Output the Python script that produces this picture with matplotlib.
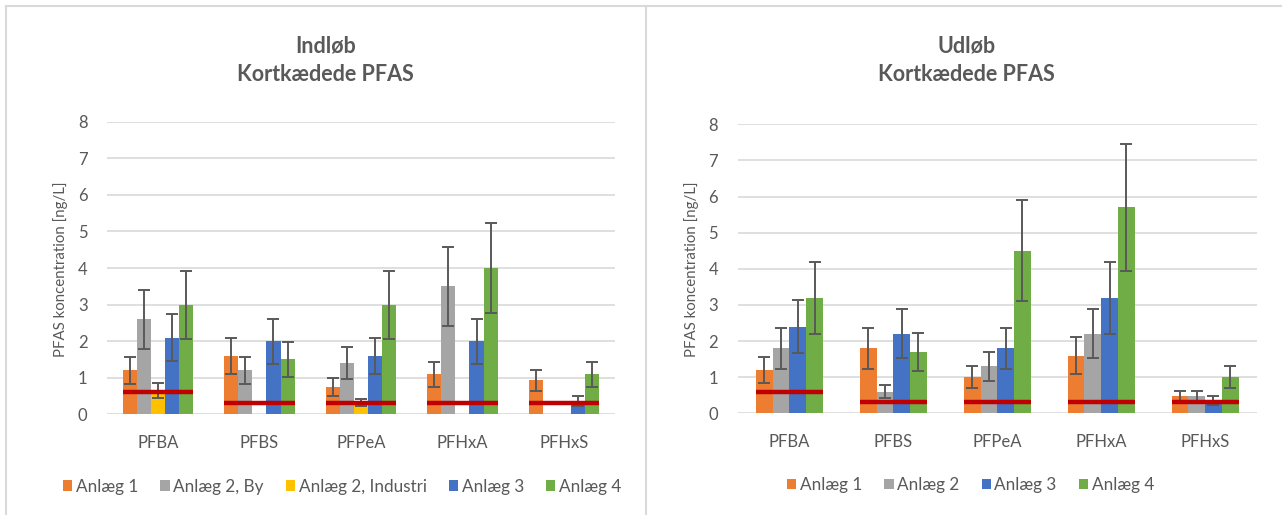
import numpy as np
import matplotlib
matplotlib.use("Agg")
import matplotlib.pyplot as plt
from matplotlib.lines import Line2D

plt.rcParams["font.family"] = ["Lato", "DejaVu Sans"]

# data
compounds = ["PFBA", "PFBS", "PFPeA", "PFHxA", "PFHxS"]
limit_values = [0.6, 0.3, 0.3, 0.3, 0.3]

in_labels = ["Anlæg 1", "Anlæg 2, By", "Anlæg 2, Industri", "Anlæg 3", "Anlæg 4"]
in_anlaeg1 = [1.2, 1.6, 0.75, 1.1, 0.93]
in_anlaeg1_err = [0.37, 0.5, 0.25, 0.34, 0.29]
in_anlaeg2_by = [2.6, 1.2, 1.4, 3.5, np.nan]
in_anlaeg2_by_err = [0.81, 0.38, 0.43, 1.08, np.nan]
in_anlaeg2_ind = [0.66, np.nan, 0.33, np.nan, np.nan]
in_anlaeg2_ind_err = [0.21, np.nan, 0.1, np.nan, np.nan]
in_anlaeg3 = [2.1, 2.0, 1.6, 2.0, 0.36]
in_anlaeg3_err = [0.65, 0.62, 0.5, 0.62, 0.13]
in_anlaeg4 = [3.0, 1.5, 3.0, 4.0, 1.1]
in_anlaeg4_err = [0.93, 0.47, 0.93, 1.24, 0.34]

out_labels = ["Anlæg 1", "Anlæg 2", "Anlæg 3", "Anlæg 4"]
out_anlaeg1 = [1.2, 1.8, 1.0, 1.6, 0.48]
out_anlaeg1_err = [0.37, 0.56, 0.31, 0.5, 0.15]
out_anlaeg2 = [1.8, 0.6, 1.3, 2.2, 0.48]
out_anlaeg2_err = [0.56, 0.18, 0.4, 0.68, 0.15]
out_anlaeg3 = [2.4, 2.2, 1.8, 3.2, 0.36]
out_anlaeg3_err = [0.74, 0.68, 0.56, 1.0, 0.12]
out_anlaeg4 = [3.2, 1.7, 4.5, 5.7, 1.0]
out_anlaeg4_err = [1.0, 0.53, 1.4, 1.77, 0.31]

TEXT = "#595959"
GRID = "#D9D9D9"
RED = "#C00000"


def draw_panel(ax, series, errors, labels, colors, bar_w):
    x = np.arange(len(compounds))
    n = len(series)
    for k, (vals, errs, lab, col) in enumerate(zip(series, errors, labels, colors)):
        offs = (k - (n - 1) / 2) * bar_w
        ax.bar(x + offs, vals, bar_w, color=col, label=lab, zorder=2,
               yerr=errs, error_kw=dict(ecolor=TEXT, elinewidth=1.4,
                                        capsize=4.5, capthick=1.4, zorder=3))
    half = n * bar_w / 2
    for i, lim in enumerate(limit_values):
        ax.hlines(lim, i - half, i + half, color=RED, linewidth=3.2, zorder=4)

    ax.set_xlim(-0.5, len(compounds) - 0.5)
    ax.set_ylim(0, 8)
    ax.set_yticks(range(0, 9))
    ax.set_xticks(x)
    ax.set_xticklabels(compounds)
    ax.tick_params(length=0, labelsize=12, colors=TEXT)
    ax.tick_params(axis="y", pad=14)
    ax.tick_params(axis="x", pad=15)
    ax.grid(axis="y", color=GRID, linewidth=1.2)
    ax.set_axisbelow(True)
    for s in ax.spines.values():
        s.set_visible(False)


fig = plt.figure(figsize=(12.82, 5.15), dpi=100)

ax1 = fig.add_axes([0.0835, 0.1955, 0.396, 0.568])
draw_panel(ax1,
           [in_anlaeg1, in_anlaeg2_by, in_anlaeg2_ind, in_anlaeg3, in_anlaeg4],
           [in_anlaeg1_err, in_anlaeg2_by_err, in_anlaeg2_ind_err,
            in_anlaeg3_err, in_anlaeg4_err],
           in_labels,
           ["#ED7D31", "#A5A5A5", "#FFC000", "#4472C4", "#70AD47"], 0.139)

ax2 = fig.add_axes([0.5753, 0.1975, 0.4052, 0.561])
draw_panel(ax2,
           [out_anlaeg1, out_anlaeg2, out_anlaeg3, out_anlaeg4],
           [out_anlaeg1_err, out_anlaeg2_err, out_anlaeg3_err, out_anlaeg4_err],
           out_labels,
           ["#ED7D31", "#A5A5A5", "#4472C4", "#70AD47"], 0.161)

# titles
for xc, first in [(0.254, "Indløb"), (0.754, "Udløb")]:
    fig.text(xc, 0.911, first, ha="center", va="center", fontsize=15.5,
             fontweight="bold", color=TEXT)
    fig.text(xc, 0.856, "Kortkædede PFAS", ha="center", va="center",
             fontsize=15.5, fontweight="bold", color=TEXT)

# y labels
for xp in [61, 692]:
    fig.text(xp / 1282, 0.478, "PFAS koncentration [ng/L]", rotation=90,
             ha="center", va="center", fontsize=10.8, color=TEXT)

# legends
leg_kw = dict(loc="center", frameon=False, fontsize=12.3, labelcolor=TEXT,
              handlelength=0.55, handleheight=0.55, handletextpad=0.2,
              columnspacing=1.3)
h1, l1 = ax1.get_legend_handles_labels()
fig.legend(h1, l1, bbox_to_anchor=(0.2668, 0.055), ncol=5, **leg_kw)
h2, l2 = ax2.get_legend_handles_labels()
fig.legend(h2, l2, bbox_to_anchor=(0.757, 0.058), ncol=4, **leg_kw)

# panel frame lines
W, H = 1282, 515
fig.add_artist(Line2D([6 / W, 1], [1 - 6 / H, 1 - 6 / H], color=GRID, lw=1.5))
fig.add_artist(Line2D([6 / W, 6 / W], [0, 1 - 6 / H], color=GRID, lw=1.5))
fig.add_artist(Line2D([646 / W, 646 / W], [0, 1 - 6 / H], color=GRID, lw=1.5))

fig.savefig("out.png", dpi=100)
